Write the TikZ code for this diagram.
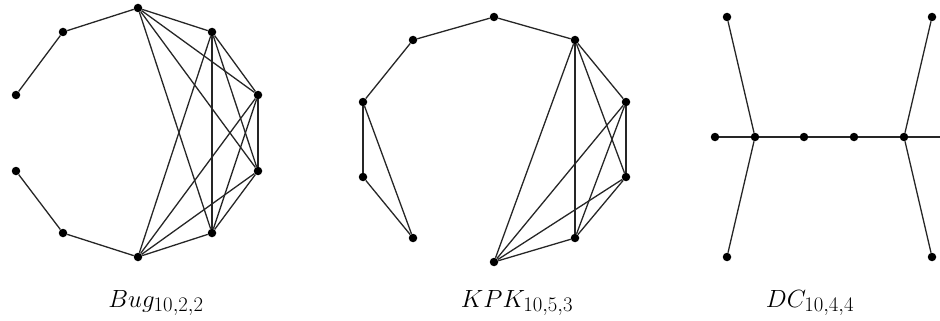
\documentclass[tikz,border=0pt]{standalone}
\usepackage{amsmath}
\usetikzlibrary{positioning}

\begin{document}
\begin{tikzpicture}[x=1pt, y=-1pt,
  vtx/.style={circle, fill=black, inner sep=0pt, minimum size=8.5pt},
  edge/.style={line width=1.3pt, black!85},
  lbl/.style={anchor=base, font=\Huge}
]
\useasboundingbox (0,0) rectangle (940,321);

% Bug graph
\node[vtx] (b0) at (138,8) {};
\node[vtx] (b1) at (212,32) {};
\node[vtx] (b2) at (258,95) {};
\node[vtx] (b3) at (258,171) {};
\node[vtx] (b4) at (212,233) {};
\node[vtx] (b5) at (138,257) {};
\node[vtx] (b6) at (63,233) {};
\node[vtx] (b7) at (16,171) {};
\node[vtx] (b8) at (16,95) {};
\node[vtx] (b9) at (63,32) {};

\foreach \a/\b in {b8/b9, b9/b0, b7/b6, b6/b5,
                   b1/b2, b1/b3, b1/b4, b2/b3, b2/b4, b3/b4}
  \draw[edge] (\a) -- (\b);
\foreach \c in {b1, b2, b3, b4} {
  \draw[edge] (b0) -- (\c);
  \draw[edge] (b5) -- (\c);
}

% KPK graph
\node[vtx] (k0) at (494,17) {};
\node[vtx] (k1) at (575,40) {};
\node[vtx] (k2) at (626,102) {};
\node[vtx] (k3) at (626,177) {};
\node[vtx] (k4) at (575,238) {};
\node[vtx] (k5) at (494,262) {};
\node[vtx] (k6) at (413,238) {};
\node[vtx] (k7) at (363,177) {};
\node[vtx] (k8) at (363,102) {};
\node[vtx] (k9) at (413,40) {};

\foreach \a/\b in {k8/k9, k9/k0, k0/k1,
                   k8/k7, k7/k6, k8/k6,
                   k1/k2, k1/k3, k1/k4, k1/k5, k2/k3,
                   k2/k4, k2/k5, k3/k4, k3/k5, k4/k5}
  \draw[edge] (\a) -- (\b);

% DC graph
\node[vtx] (d0) at (727,17) {};
\node[vtx] (d1) at (715,137) {};
\node[vtx] (d2) at (727,257) {};
\node[vtx] (d3) at (755,137) {};
\node[vtx] (d4) at (804,137) {};
\node[vtx] (d5) at (854,137) {};
\node[vtx] (d6) at (904,137) {};
\node[vtx] (d7) at (932,17) {};
\node[vtx] (d8) at (944,137) {};
\node[vtx] (d9) at (932,257) {};

\foreach \a/\b in {d0/d3, d1/d3, d2/d3, d3/d4, d4/d5, d5/d6,
                   d6/d7, d6/d8, d6/d9}
  \draw[edge] (\a) -- (\b);

% labels
\node[lbl] (bug) at (156,307) {$Bug_{10,2,2}$};
\node[lbl] (kpk) at (517,307) {$KPK_{10,5,3}$};
\node[lbl] (dc) at (810,307) {$DC_{10,4,4}$};
\end{tikzpicture}
\end{document}
